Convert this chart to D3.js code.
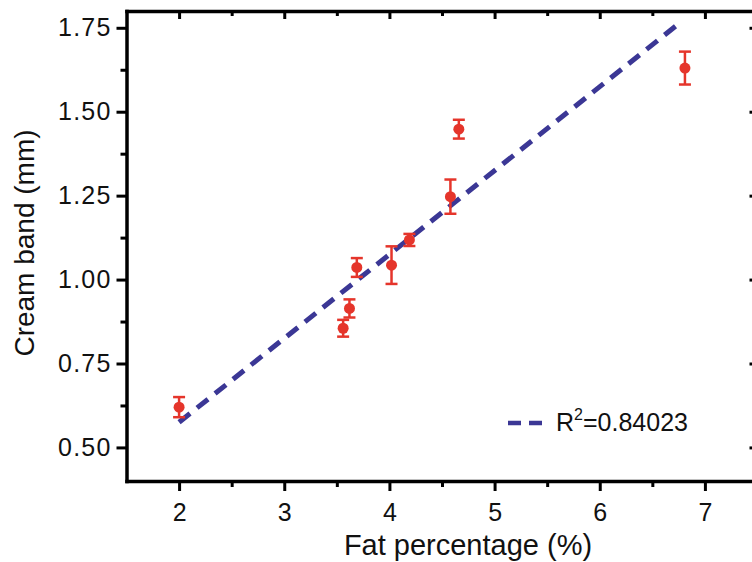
<!DOCTYPE html>
<html>
<head>
<meta charset="utf-8">
<script src="https://cdn.jsdelivr.net/npm/d3@7"></script>
<style>
  body { margin: 0; background: #fff; }
  svg { display: block; }
  .axis .domain { stroke: #000; stroke-width: 3.5; stroke-linecap: square; }
  .axis line { stroke: #000; stroke-width: 3; }
  .axis text { font-family: "Liberation Sans", Arial, sans-serif; font-size: 25px; fill: #111; }
  .axisLabel { font-family: "Liberation Sans", Arial, sans-serif; fill: #111; }
</style>
</head>
<body>
<svg id="chart"></svg>
<script>
// data
const fat = [2.00, 3.56, 3.62, 3.69, 4.02, 4.19, 4.58, 4.66, 6.81];
const cream = [0.620, 0.855, 0.914, 1.036, 1.043, 1.118, 1.247, 1.448, 1.630];
const creamErr = [0.030, 0.025, 0.027, 0.028, 0.056, 0.018, 0.051, 0.028, 0.049];

// fitted line end points
const fitX = [2.00, 6.73];
const fitY = [0.575, 1.757];
const fitLabel = "0.84023";

const xMajor = [2, 3, 4, 5, 6, 7];
const xMinor = [2.5, 3.5, 4.5, 5.5, 6.5];
const yMajor = [0.50, 0.75, 1.00, 1.25, 1.50, 1.75];
const yMinor = [0.625, 0.875, 1.125, 1.375, 1.625];

const width = 752, height = 562;
const red = "#e5352b";
const blue = "#3b3795";

let svg = d3.select("#chart")
    .attr("width", width)
    .attr("height", height);

let x = d3.scaleLinear().domain([1.5, 7.5]).range([126.5, 757.5]);
let y = d3.scaleLinear().domain([0.4, 1.8]).range([481, 11]);

let x0 = x.range()[0], x1 = x.range()[1];
let y0 = y.range()[0], y1 = y.range()[1];

// bottom axis
svg.append("g")
    .attr("class", "axis")
    .attr("transform", "translate(0," + y0 + ")")
    .call(d3.axisBottom(x).tickValues(xMajor).tickSize(10).tickSizeOuter(0)
        .tickPadding(12).tickFormat(d3.format("d")));
svg.append("g")
    .attr("class", "axis")
    .attr("transform", "translate(0," + y0 + ")")
    .call(d3.axisBottom(x).tickValues(xMinor).tickSize(6).tickSizeOuter(0).tickFormat(""))
    .select(".domain").remove();

// top axis, ticks inside
svg.append("g")
    .attr("class", "axis")
    .attr("transform", "translate(0," + y1 + ")")
    .call(d3.axisTop(x).tickValues(xMajor).tickSize(-8).tickSizeOuter(0).tickFormat(""));
svg.append("g")
    .attr("class", "axis")
    .attr("transform", "translate(0," + y1 + ")")
    .call(d3.axisTop(x).tickValues(xMinor).tickSize(-5).tickSizeOuter(0).tickFormat(""))
    .select(".domain").remove();

// left axis
svg.append("g")
    .attr("class", "axis")
    .attr("transform", "translate(" + x0 + ",0)")
    .call(d3.axisLeft(y).tickValues(yMajor).tickSize(10).tickSizeOuter(0)
        .tickPadding(5).tickFormat(d3.format(".2f")))
    .selectAll("text").style("letter-spacing", "1.2px");
svg.append("g")
    .attr("class", "axis")
    .attr("transform", "translate(" + x0 + ",0)")
    .call(d3.axisLeft(y).tickValues(yMinor).tickSize(6).tickSizeOuter(0).tickFormat(""))
    .select(".domain").remove();

// right axis (mostly outside the window)
svg.append("g")
    .attr("class", "axis")
    .attr("transform", "translate(" + x1 + ",0)")
    .call(d3.axisRight(y).tickValues(yMajor).tickSize(-8).tickSizeOuter(0).tickFormat(""));

// fit line
svg.append("path")
    .datum(d3.zip(fitX, fitY))
    .attr("fill", "none")
    .attr("stroke", blue)
    .attr("stroke-width", 5)
    .attr("stroke-dasharray", "14,9")
    .attr("d", d3.line().x(d => x(d[0])).y(d => y(d[1])));

// error bars
let pts = d3.zip(fat, cream, creamErr);
let err = svg.append("g")
    .attr("stroke", red)
    .attr("stroke-width", 2.5);

err.selectAll(".bar").data(pts).join("line")
    .attr("x1", d => x(d[0])).attr("x2", d => x(d[0]))
    .attr("y1", d => y(d[1] - d[2])).attr("y2", d => y(d[1] + d[2]));
err.selectAll(".capTop").data(pts).join("line")
    .attr("class", "capTop")
    .attr("x1", d => x(d[0]) - 6).attr("x2", d => x(d[0]) + 6)
    .attr("y1", d => y(d[1] + d[2])).attr("y2", d => y(d[1] + d[2]));
err.selectAll(".capBot").data(pts).join("line")
    .attr("class", "capBot")
    .attr("x1", d => x(d[0]) - 6).attr("x2", d => x(d[0]) + 6)
    .attr("y1", d => y(d[1] - d[2])).attr("y2", d => y(d[1] - d[2]));

// points
svg.append("g").selectAll("circle").data(pts).join("circle")
    .attr("cx", d => x(d[0]))
    .attr("cy", d => y(d[1]))
    .attr("r", 5.5)
    .attr("fill", red);

// legend
svg.append("line")
    .attr("x1", 508).attr("x2", 542)
    .attr("y1", 423).attr("y2", 423)
    .attr("stroke", blue)
    .attr("stroke-width", 4.5)
    .attr("stroke-dasharray", "13,8");

let leg = svg.append("text")
    .attr("class", "axisLabel")
    .attr("x", 556)
    .attr("y", 431)
    .style("font-size", "25px");
leg.append("tspan").text("R");
leg.append("tspan").attr("dy", -11).style("font-size", "16px").text("2");
leg.append("tspan").attr("dy", 11).text("=" + fitLabel);

// axis titles
svg.append("text")
    .attr("class", "axisLabel")
    .attr("x", 468)
    .attr("y", 555)
    .attr("text-anchor", "middle")
    .style("font-size", "29px")
    .text("Fat percentage (%)");

svg.append("text")
    .attr("class", "axisLabel")
    .attr("transform", "translate(34,243) rotate(-90)")
    .attr("text-anchor", "middle")
    .style("font-size", "28px")
    .text("Cream band (mm)");
</script>
</body>
</html>
